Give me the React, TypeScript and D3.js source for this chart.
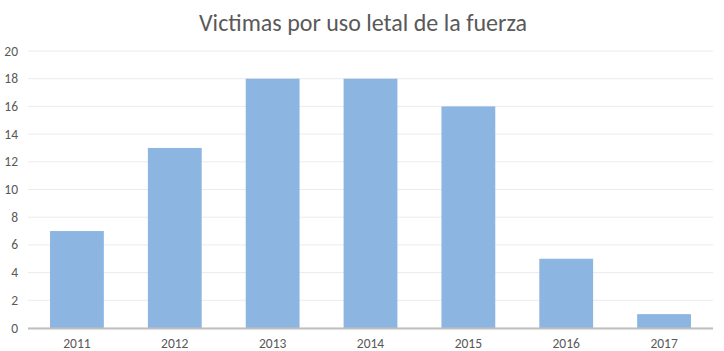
import * as d3 from 'd3';

const years = ['2011', '2012', '2013', '2014', '2015', '2016', '2017'];
const victims = [7, 13, 18, 18, 16, 5, 1];
const yTicks = [0, 2, 4, 6, 8, 10, 12, 14, 16, 18, 20];

const W = 724;
const H = 351;
const margin = { top: 51, right: 11, bottom: 23, left: 28 };

export default function App() {
  const innerW = W - margin.left - margin.right;
  const innerH = H - margin.top - margin.bottom;

  const x = d3.scaleBand<string>().domain(years).range([0, innerW]).paddingInner(0.45).paddingOuter(0.225);
  const y = d3.scaleLinear().domain([0, 20]).range([innerH, 0]);

  const font = 'Carlito, Calibri, "Open Sans", sans-serif';

  return (
    <svg
      width={W}
      height={H}
      style={{ position: 'absolute', left: 0, top: 0, background: '#fff' }}
      fontFamily={font}
    >
      <text x={363} y={31} textAnchor="middle" fontSize={24} fill="#595959">
        Victimas por uso letal de la fuerza
      </text>
      <g transform={`translate(${margin.left},${margin.top})`}>
        {/* gridlines */}
        {yTicks.map((t) => (
          <line key={t} x1={0} x2={innerW} y1={y(t)} y2={y(t)} stroke="#EBEBEB" strokeWidth={1} />
        ))}
        {yTicks.map((t) => (
          <text key={'l' + t} x={-10} y={y(t) + 4.5} textAnchor="end" fontSize={13.5} fill="#595959">
            {t}
          </text>
        ))}
        {/* bars */}
        {victims.map((v, i) => (
          <rect
            key={years[i]}
            x={x(years[i])}
            y={y(v)}
            width={x.bandwidth()}
            height={innerH - y(v)}
            fill="#8CB6E1"
          />
        ))}
        {/* baseline */}
        <line x1={0} x2={innerW} y1={innerH + 0.5} y2={innerH + 0.5} stroke="#BFBFBF" strokeWidth={2} />
        {years.map((yr) => (
          <text
            key={'x' + yr}
            x={(x(yr) ?? 0) + x.bandwidth() / 2}
            y={innerH + 20}
            textAnchor="middle"
            fontSize={13.5}
            fill="#595959"
          >
            {yr}
          </text>
        ))}
      </g>
    </svg>
  );
}
